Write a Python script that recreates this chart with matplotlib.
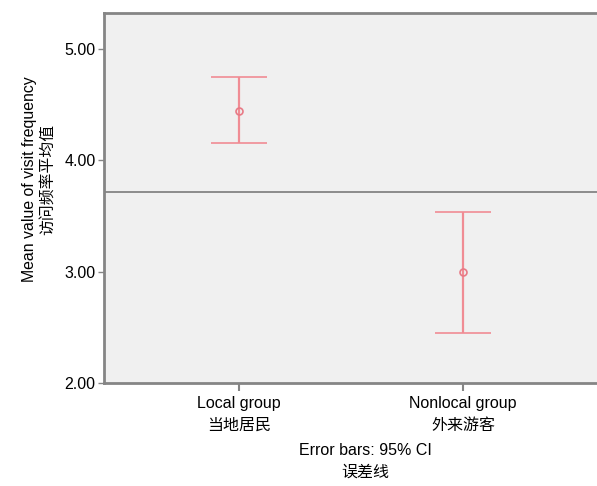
import matplotlib
matplotlib.use("Agg")
import matplotlib.pyplot as plt

plt.rcParams['font.family'] = ['Liberation Sans', 'Noto Sans CJK SC', 'DejaVu Sans']

categories = ["Local group\n当地居民", "Nonlocal group\n外来游客"]
means = [4.44, 3.00]
ci_low = [4.16, 2.45]
ci_high = [4.75, 3.54]
ref_line = 3.72
yticks = [2.0, 3.0, 4.0, 5.0]
ytick_labels = ["2.00", "3.00", "4.00", "5.00"]

W, H = 597, 486
fig = plt.figure(figsize=(W/100, H/100), dpi=100)
ax = fig.add_axes([104/W, 1-383/H, (597-104)/W, (383-13)/H])
ax.set_facecolor('#f0f0f0')

xs = [1, 2]
err_lo = [m - l for m, l in zip(means, ci_low)]
err_hi = [h - m for m, h in zip(means, ci_high)]
col = '#f08c94'
ax.errorbar(xs, means, yerr=[err_lo, err_hi], fmt='o', color=col, ecolor=col,
            elinewidth=1.6, capsize=20.5, capthick=1.6, markersize=5,
            markerfacecolor='none', markeredgecolor='#e87a86', markeredgewidth=1.2, zorder=3)
ax.axhline(ref_line, color='#8c8c8c', linewidth=1.4, zorder=2)

ax.set_xlim(0.397, 2.598)
ax.set_ylim(2.0, 5.324)
ax.set_xticks(xs)
ax.set_xticklabels(categories, fontsize=11.5, linespacing=1.6)
ax.set_yticks(yticks)
ax.set_yticklabels(ytick_labels, fontsize=11.5)

for s in ['left', 'bottom', 'top']:
    ax.spines[s].set_color('#858585')
    ax.spines[s].set_linewidth(2)
ax.spines['right'].set_visible(False)
ax.tick_params(axis='y', length=4, color='#858585', width=1, pad=2)
ax.tick_params(axis='x', length=6, color='#858585', width=1.5, pad=3)

ax.set_ylabel("Mean value of visit frequency\n访问频率平均值", fontsize=11.4, linespacing=1.35)
ax.yaxis.set_label_coords(-0.097, 0.55)
ax.set_xlabel("Error bars: 95% CI\n误差线", fontsize=11.5, linespacing=1.6)
ax.xaxis.set_label_coords(0.53, -0.162)

fig.savefig("out.png", dpi=100)
